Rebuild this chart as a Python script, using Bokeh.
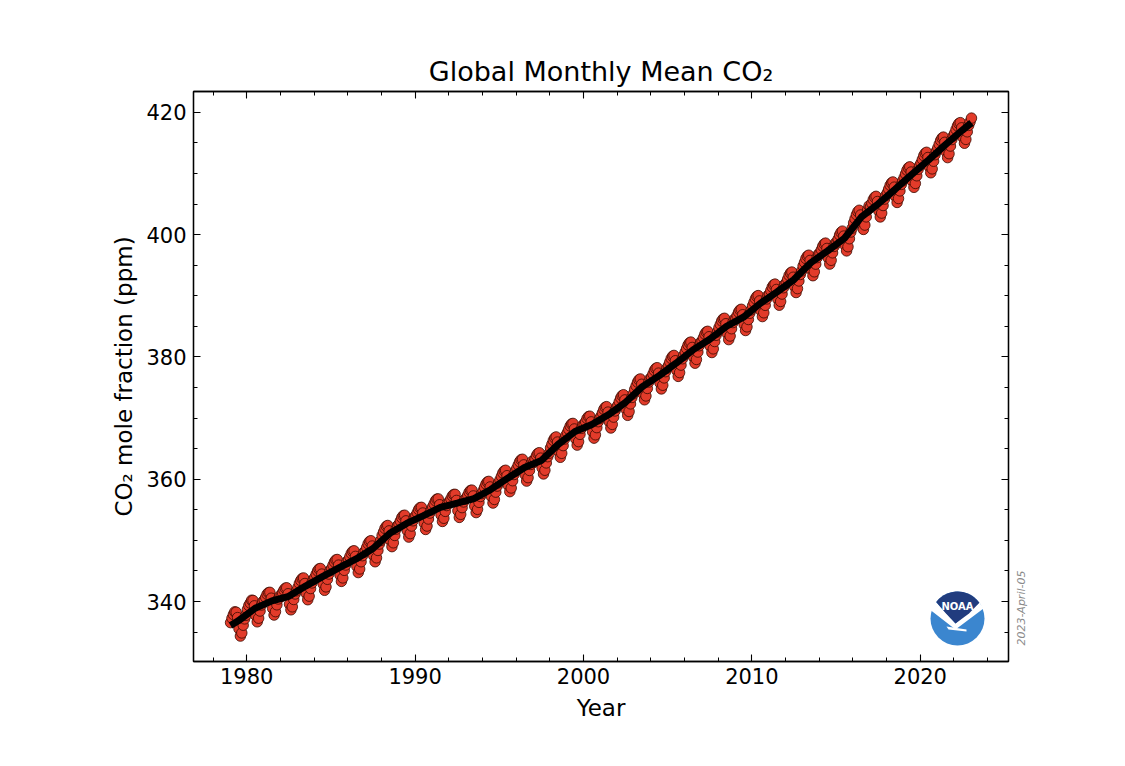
import math
from bokeh.plotting import figure
from bokeh.models import Range1d, LinearAxis, SingleIntervalTicker, FixedTicker, ColumnDataSource
from bokeh.core.properties import value
from bokeh.embed import file_html
from bokeh.resources import INLINE

# ---------------- data: NOAA global monthly mean CO2 (ppm) ----------------
y1979 = [336.56, 337.29, 337.88, 338.32, 338.26, 337.38, 335.56, 334.36, 334.87, 336.13, 337.17, 337.76]
y1980 = [338.72, 339.35, 339.76, 340.22, 340.18, 339.30, 337.71, 336.69, 337.28, 338.45, 339.44, 339.98]
y1981 = [340.24, 340.70, 341.20, 341.46, 341.51, 340.55, 338.88, 337.80, 338.35, 339.47, 340.42, 340.90]
y1982 = [340.83, 341.45, 341.88, 342.18, 342.25, 341.28, 339.58, 338.65, 339.14, 340.34, 341.24, 341.76]
y1983 = [342.30, 342.96, 343.44, 343.77, 343.86, 342.95, 341.33, 340.30, 340.88, 342.13, 343.05, 343.60]
y1984 = [343.95, 344.48, 345.01, 345.33, 345.41, 344.49, 342.86, 341.84, 342.40, 343.64, 344.50, 345.09]
y1985 = [345.42, 345.95, 346.48, 346.80, 346.88, 345.96, 344.33, 343.30, 343.87, 345.11, 345.98, 346.55]
y1986 = [346.80, 347.34, 347.88, 348.21, 348.30, 347.39, 345.76, 344.74, 345.33, 346.51, 347.50, 348.04]
y1987 = [348.28, 348.86, 349.45, 349.81, 349.95, 349.08, 347.49, 346.51, 347.15, 348.36, 349.40, 349.98]
y1988 = [350.81, 351.38, 351.96, 352.31, 352.44, 351.56, 349.97, 348.98, 349.61, 350.81, 351.84, 352.40]
y1989 = [352.66, 353.19, 353.72, 354.04, 354.12, 353.20, 351.57, 350.54, 351.11, 352.35, 353.21, 353.80]
y1990 = [354.02, 354.53, 355.05, 355.35, 355.41, 354.48, 352.83, 351.79, 352.35, 353.50, 354.47, 354.97]
y1991 = [355.50, 355.98, 356.48, 356.75, 356.79, 355.83, 354.16, 353.10, 353.62, 354.75, 355.70, 356.17]
y1992 = [356.34, 356.79, 357.27, 357.51, 357.53, 356.54, 354.85, 353.76, 354.26, 355.36, 356.29, 356.73]
y1993 = [356.89, 357.38, 357.89, 358.17, 358.22, 357.27, 355.60, 354.55, 355.08, 356.22, 357.18, 357.66]
y1994 = [358.13, 358.68, 359.22, 359.55, 359.65, 358.74, 357.13, 356.11, 356.70, 357.89, 358.88, 359.42]
y1995 = [359.91, 360.47, 361.03, 361.36, 361.47, 360.58, 358.97, 357.97, 358.57, 359.76, 360.77, 361.32]
y1996 = [361.81, 362.34, 362.87, 363.19, 363.27, 362.35, 360.72, 359.70, 360.26, 361.44, 362.42, 362.94]
y1997 = [362.75, 363.31, 363.88, 364.22, 364.34, 363.45, 361.86, 360.87, 361.47, 362.67, 363.69, 364.24]
y1998 = [365.12, 365.73, 366.35, 366.75, 366.92, 366.08, 364.53, 363.59, 364.24, 365.50, 366.57, 367.17]
y1999 = [367.63, 368.17, 368.71, 369.04, 369.13, 368.22, 366.59, 365.58, 366.15, 367.34, 368.33, 368.86]
y2000 = [368.89, 369.41, 369.93, 370.24, 370.31, 369.38, 367.75, 366.72, 367.27, 368.44, 369.41, 369.92]
y2001 = [370.31, 370.87, 371.43, 371.76, 371.87, 370.98, 369.37, 368.38, 368.97, 370.16, 371.17, 371.72]
y2002 = [372.09, 372.69, 373.29, 373.67, 373.82, 372.97, 371.40, 370.45, 371.08, 372.32, 373.37, 373.96]
y2003 = [374.70, 375.28, 375.88, 376.25, 376.40, 375.53, 373.96, 372.99, 373.62, 374.85, 375.90, 376.47]
y2004 = [376.65, 377.21, 377.78, 378.12, 378.24, 377.35, 375.76, 374.77, 375.37, 376.57, 377.59, 378.14]
y2005 = [378.58, 379.16, 379.75, 380.11, 380.25, 379.38, 377.79, 376.82, 377.44, 378.66, 379.70, 380.27]
y2006 = [380.80, 381.37, 381.95, 382.30, 382.43, 381.55, 379.96, 378.98, 379.59, 380.80, 381.83, 382.39]
y2007 = [382.60, 383.16, 383.73, 384.07, 384.19, 383.30, 381.71, 380.72, 381.32, 382.52, 383.54, 384.09]
y2008 = [384.76, 385.32, 385.88, 386.21, 386.32, 385.43, 383.82, 382.83, 383.42, 384.61, 385.62, 386.17]
y2009 = [386.20, 386.76, 387.33, 387.67, 387.79, 386.90, 385.31, 384.32, 384.92, 386.12, 387.14, 387.69]
y2010 = [388.36, 388.94, 389.53, 389.89, 390.03, 389.16, 387.57, 386.60, 387.22, 388.44, 389.48, 390.05]
y2011 = [390.28, 390.85, 391.43, 391.78, 391.91, 391.03, 389.44, 388.46, 389.07, 390.28, 391.31, 391.87]
y2012 = [392.12, 392.72, 393.33, 393.72, 393.88, 393.03, 391.48, 390.53, 391.17, 392.42, 393.48, 394.07]
y2013 = [394.87, 395.47, 396.08, 396.47, 396.63, 395.78, 394.23, 393.28, 393.92, 395.17, 396.23, 396.82]
y2014 = [396.94, 397.52, 398.11, 398.47, 398.61, 397.74, 396.15, 395.18, 395.80, 397.02, 398.06, 398.63]
y2015 = [398.64, 399.28, 399.93, 400.37, 400.57, 399.76, 398.25, 397.34, 398.02, 399.32, 400.42, 401.05]
y2016 = [401.91, 402.59, 403.27, 403.75, 403.98, 403.21, 401.72, 400.85, 401.56, 402.90, 404.03, 404.70]
y2017 = [404.53, 405.13, 405.73, 406.11, 406.26, 405.41, 403.84, 402.89, 403.52, 404.76, 405.81, 406.40]
y2018 = [406.85, 407.45, 408.06, 408.45, 408.61, 407.76, 406.21, 405.26, 405.90, 407.15, 408.21, 408.80]
y2019 = [409.32, 409.92, 410.53, 410.92, 411.08, 410.23, 408.68, 407.73, 408.37, 409.62, 410.68, 411.27]
y2020 = [411.70, 412.30, 412.91, 413.30, 413.46, 412.61, 411.06, 410.11, 410.75, 412.00, 413.06, 413.65]
y2021 = [414.18, 414.78, 415.39, 415.78, 415.94, 415.09, 413.54, 412.59, 413.23, 414.48, 415.54, 416.13]
y2022 = [416.58, 417.18, 417.78, 418.16, 418.31, 417.46, 415.89, 414.94, 415.57, 416.81, 417.86, 418.45]
y2023 = [419.05]

first_year = 1979
monthly_by_year = [y1979, y1980, y1981, y1982, y1983, y1984, y1985, y1986, y1987, y1988,
                   y1989, y1990, y1991, y1992, y1993, y1994, y1995, y1996, y1997, y1998,
                   y1999, y2000, y2001, y2002, y2003, y2004, y2005, y2006, y2007, y2008,
                   y2009, y2010, y2011, y2012, y2013, y2014, y2015, y2016, y2017, y2018,
                   y2019, y2020, y2021, y2022, y2023]

# long-term trend (ppm): start value, annual means (at mid-year), end value
trend_start = (1979.04, 336.10)
trend_annual = [336.85, 338.91, 340.11, 340.86, 342.53, 344.07, 345.54, 346.97, 348.68, 351.16,
                352.78, 354.05, 355.39, 356.09, 356.83, 358.33, 360.17, 361.93, 363.05, 365.70,
                367.80, 368.96, 370.57, 372.58, 375.14, 376.95, 378.98, 381.15, 382.90, 385.02,
                386.50, 388.76, 390.63, 392.65, 395.40, 397.34, 399.40, 402.86, 405.02, 407.38,
                409.85, 412.23, 414.71, 417.07]
trend_end = (2023.04, 418.30)

title_text = "Global Monthly Mean CO\u2082"
x_label = "Year"
y_label = "CO\u2082 mole fraction (ppm)"
date_text = "2023-April-05"

# ---------------- build sources ----------------
mx, my = [], []
for i, vals in enumerate(monthly_by_year):
    yr = first_year + i
    for m, v in enumerate(vals):
        mx.append(yr + (m + 0.5) / 12.0)
        my.append(v)
src = ColumnDataSource(dict(x=mx, y=my))

tx = [trend_start[0]] + [first_year + i + 0.5 for i in range(len(trend_annual))] + [trend_end[0]]
ty = [trend_start[1]] + trend_annual + [trend_end[1]]
tsrc = ColumnDataSource(dict(x=tx, y=ty))

# ---------------- figure ----------------
X0, X1 = 1976.84, 2025.24
Y0, Y1 = 330.2, 423.4
W, H = 1125, 766
BL, BR, BT, BB = 193, 117, 91, 105
FW, FH = W - BL - BR, H - BT - BB

FONT = "DejaVu Sans"
p = figure(width=W, height=H, output_backend="svg", toolbar_location=None,
           x_range=Range1d(X0, X1), y_range=Range1d(Y0, Y1),
           x_axis_location=None, y_axis_location=None,
           min_border_left=BL, min_border_right=BR, min_border_top=BT, min_border_bottom=BB,
           background_fill_color="white", border_fill_color="white")
p.xgrid.visible = False
p.ygrid.visible = False
p.outline_line_color = "black"
p.outline_line_width = 1.3

p.title.text = title_text
p.title.align = "center"
p.title.text_font = FONT
p.title.text_font_style = "normal"
p.title.text_font_size = "27px"
p.title.text_color = "black"

def make_axis(ticker_interval, minor, labels, label_text=None):
    ax = LinearAxis(ticker=SingleIntervalTicker(interval=ticker_interval, num_minor_ticks=minor))
    ax.major_tick_in = 7
    ax.major_tick_out = 0
    ax.minor_tick_in = 4
    ax.minor_tick_out = 0
    ax.axis_line_width = 1.3
    ax.major_tick_line_width = 1.1
    ax.minor_tick_line_width = 1.0
    ax.major_label_text_font = FONT
    if labels:
        ax.major_label_text_font_size = "21px"
        ax.major_label_text_color = "black"
    else:
        ax.major_label_text_font_size = "0px"
        ax.major_label_text_color = None
        ax.major_label_standoff = 0
    if label_text:
        ax.axis_label = label_text
        ax.axis_label_text_font = FONT
        ax.axis_label_text_font_size = "23px"
        ax.axis_label_text_font_style = "normal"
        ax.axis_label_text_color = "black"
    return ax

xb = make_axis(10, 5, True, x_label)
xb.major_label_standoff = 6
xb.axis_label_standoff = 8
p.add_layout(xb, "below")
yl = make_axis(20, 4, True, y_label)
yl.major_label_standoff = 7
yl.axis_label_standoff = 6
p.add_layout(yl, "left")
xt = make_axis(10, 5, False)
p.add_layout(xt, "above")
yr_ax = make_axis(20, 4, False)
p.add_layout(yr_ax, "right")

# date stamp, shown as the single label of a bare right-hand axis
date_y = 332.8
dax = LinearAxis(ticker=FixedTicker(ticks=[date_y], minor_ticks=[]))
dax.major_label_overrides = {date_y: date_text}
dax.axis_line_color = None
dax.major_tick_line_color = None
dax.minor_tick_line_color = None
dax.major_tick_in = 0
dax.major_tick_out = 0
dax.major_label_orientation = math.pi / 2
dax.major_label_standoff = 13
dax.major_label_text_font = FONT
dax.major_label_text_font_style = "italic"
dax.major_label_text_font_size = "11px"
dax.major_label_text_color = "#8a8a8a"
p.add_layout(dax, "right")

# monthly points and trend
p.scatter("x", "y", source=src, size=10.5, fill_color="#e23b2a", line_color="#3a0a00", line_width=0.8)
p.line("x", "y", source=tsrc, line_width=7, line_color="black")

# ---------------- NOAA logo (decoration, positioned in pixels) ----------------
xpp = (X1 - X0) / FW
ypp = (Y1 - Y0) / FH
LCX, LCY = 957, 618  # logo center, page pixels
cx = X0 + (LCX - BL) * xpp
cy = Y1 - (LCY - BT) * ypp

def px(dx, dy):  # dx right, dy up, in pixels
    return cx + dx * xpp, cy + dy * ypp

R = 27
p.circle(x=[cx], y=[cy], radius=R, radius_units="screen", fill_color="#3b86cf", line_color=None)
band = [(-29, 10), (-2, -11), (26, 10), (22, 16), (-2, -5), (-22, 17)]
bx, by = zip(*[px(a, b) for a, b in band])
p.patch(list(bx), list(by), fill_color="white", line_color=None)
tail = [(-11, -8), (9, -11), (9, -13), (-9, -11)]
tx_, ty_ = zip(*[px(a, b) for a, b in tail])
p.patch(list(tx_), list(ty_), fill_color="white", line_color=None)
pts = []
for k in range(0, 21):
    ang = math.radians(36 + (142 - 36) * k / 20)
    pts.append((R * math.cos(ang), R * math.sin(ang)))
pts += [(-11.5, 5.0), (-2, -5), (11.5, 5.0)]
nx, ny = zip(*[px(a, b) for a, b in pts])
p.patch(list(nx), list(ny), fill_color="#213c7e", line_color=None)
nlx, nly = px(0, 12)
p.text(x=[nlx], y=[nly], text=["NOAA"], text_font=value(FONT), text_font_style="bold",
       text_font_size="10px", text_color="white", text_align="center", text_baseline="middle")

open("out.html", "w").write(file_html(p, INLINE))
